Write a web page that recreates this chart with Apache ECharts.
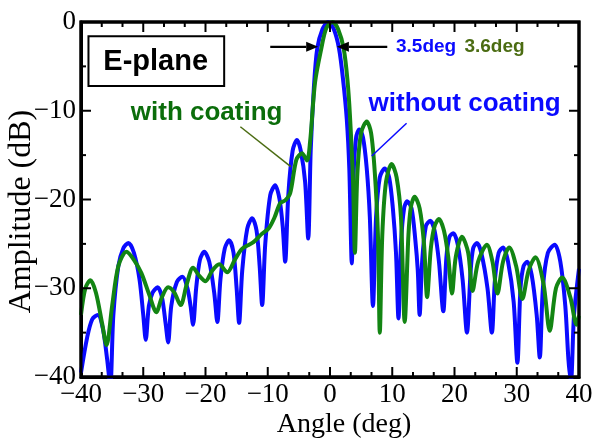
<!DOCTYPE html>
<html>
<head>
<meta charset="utf-8">
<script src="https://cdn.jsdelivr.net/npm/echarts@6/dist/echarts.min.js"></script>
<style>html,body{margin:0;padding:0;background:#fff}#c{width:598px;height:440px}</style>
</head>
<body>
<div id="c"></div>
<script>
// ---- data ----
const xTicks = [-40, -30, -20, -10, 0, 10, 20, 30, 40];
const yTicks = [-40, -30, -20, -10, 0];

const blueAngles = [-40,-39,-38.2,-37.3,-36.5,-35.8,-35.3,-34.8,-34,-33.2,-32.4,-31.5,-30.6,-30.0,-29.6,-29.1,-28.5,-27.7,-27.0,-26.4,-26.0,-25.5,-24.6,-23.7,-22.9,-22.4,-22.0,-21.5,-20.9,-20.2,-19.4,-18.6,-18.1,-17.6,-16.9,-16.2,-15.5,-15.0,-14.6,-14.1,-13.3,-12.5,-11.8,-11.3,-10.9,-10.4,-9.6,-8.8,-8.1,-7.6,-7.2,-6.7,-6.0,-5.3,-4.7,-4.0,-3.5,-3.1,-2.6,-2.05,-1.2,-0.3,0.6,1.45,2.1,2.7,3.1,3.5,3.8,4.2,4.7,5.3,5.9,6.4,6.9,7.4,8.0,8.8,9.5,10.1,10.6,11.0,11.4,11.9,12.4,13.1,13.7,14.1,14.4,14.8,15.4,16.1,16.8,17.5,18.2,18.7,19.2,19.8,20.5,21.3,22.0,22.6,23.0,23.6,24.3,25.3,26.0,26.5,27.1,27.8,28.6,29.5,30.1,30.6,31.1,31.7,32.4,33.2,33.7,34.2,35.0,36.1,37.0,37.8,38.3,38.7,39.2,40];
const blueDb = [-39.5,-35.5,-33.5,-33.0,-34.5,-38,-41,-33,-27.5,-25.5,-24.9,-26,-29,-33,-35.8,-32,-30.5,-29.9,-31,-34,-36.1,-32,-29.3,-28.7,-30,-32,-34.1,-30,-26.8,-25.9,-27,-30.5,-33.8,-29,-25.5,-24.6,-26,-30,-33.9,-28,-23.3,-22.1,-23.5,-27.5,-31.9,-25,-19.5,-18.4,-20,-23,-27.0,-19.5,-14.5,-13.3,-14.5,-18,-24.4,-14.5,-7.5,-3,-0.8,0,-0.8,-3,-6.5,-11,-16.5,-27.2,-17,-13,-12.1,-13,-16.5,-22,-32.0,-22,-17.5,-16.5,-17.5,-21,-26,-33.4,-25,-21,-20.2,-21,-24.5,-28,-33,-27,-23,-22.4,-23.5,-27,-32.6,-26.5,-24.2,-23.8,-25,-29,-35,-28,-25.5,-24.9,-26,-30,-35,-29,-26,-25.4,-27,-31.5,-38.4,-30,-27.5,-27,-28.5,-33,-37.8,-30,-26,-25.1,-27,-32,-38,-40.5,-33,-27.8];

const greenAngles = [-40,-39.3,-38.5,-37.6,-36.6,-35.9,-35.0,-34.0,-32.7,-31.5,-30.3,-29.0,-27.9,-27.0,-26.0,-25.0,-24.0,-23.0,-22.0,-21.0,-20.0,-18.9,-17.8,-16.5,-15.3,-14.2,-13.3,-12.3,-11.0,-9.8,-8.9,-8.0,-7.2,-6.4,-5.4,-4.5,-3.7,-3.2,-2.4,-1.4,-0.6,0.4,1.3,2.2,2.8,3.2,3.7,4.0,4.4,5.0,5.9,6.6,7.2,7.7,8.0,8.4,9.0,9.9,10.7,11.4,12.0,12.6,13.0,13.6,14.4,15.1,15.6,16.2,16.8,17.5,18.3,19.0,19.6,20.2,21.2,22.2,22.9,23.8,25.2,26.1,26.9,27.8,28.8,29.9,30.9,31.9,33.0,34.3,35.3,36.3,37.3,38.6,39.6,40];
const greenDb = [-33.0,-30,-29.1,-30.5,-34,-36.4,-32,-27.5,-25.9,-26.8,-28.3,-30.8,-32.7,-31,-29.9,-30.5,-31.9,-29.5,-27.7,-28.6,-29.2,-28,-27.3,-28.2,-26.8,-25.6,-25.2,-24.8,-23.9,-23.2,-22,-20.4,-20.1,-19.3,-15.5,-14.8,-15.6,-13.5,-6.8,-3,-0.7,0,-0.8,-3,-6.5,-10.5,-18,-26,-17,-12.5,-11.2,-12.5,-17,-24,-35,-24,-18,-16.0,-17.5,-22,-33.8,-24,-20.8,-19.7,-21,-25,-31,-25.5,-23,-22.2,-23.5,-26.5,-30.6,-26.5,-24.2,-26,-30.3,-27,-25.1,-27,-30.6,-27,-25.4,-27.5,-31.2,-28,-26.5,-29.5,-34.8,-30,-28.8,-31,-34.1,-33.1];

const seriesNames = ['without coating', 'with coating'];
const beamWidths = ['3.5deg', '3.6deg'];
const axisTitles = ['Angle (deg)', 'Amplitude (dB)'];

// ---- chart ----
const BLUE = '#0a0aff', GREEN = '#138513', GREEN_TXT = '#0b6d0b', OLIVE = '#4b6c12';
const serif = 'Liberation Serif';
const fmt = v => String(v).replace('-', '\u2212');
const pairs = (a, b) => a.map((x, i) => [x, b[i]]);

function axisCommon(margin) {
  return {
    axisLine: { show: true, onZero: false, lineStyle: { color: '#000', width: 3 } },
    axisTick: { show: false },
    splitLine: { show: false },
    axisLabel: { show: true, color: '#000', fontFamily: serif, fontSize: 27, formatter: fmt, margin: margin }
  };
}

const chart = echarts.init(document.getElementById('c'));
chart.setOption({
  animation: false,
  backgroundColor: '#fff',
  grid: { left: 81, right: 19, top: 22, bottom: 63, outerBoundsMode: 'none',
          show: true, borderColor: '#000', borderWidth: 3, backgroundColor: 'transparent' },
  xAxis: Object.assign({ type: 'value', min: xTicks[0], max: xTicks[xTicks.length - 1], interval: 10, position: 'bottom' }, axisCommon(4)),
  yAxis: Object.assign({ type: 'value', min: yTicks[0], max: yTicks[yTicks.length - 1], interval: 10, position: 'left' }, axisCommon(5)),
  series: [
    { name: seriesNames[0], type: 'line', data: pairs(blueAngles, blueDb), showSymbol: false, smooth: 0.3,
      lineStyle: { color: BLUE, width: 4 } },
    { name: seriesNames[1], type: 'line', data: pairs(greenAngles, greenDb), showSymbol: false, smooth: 0.3,
      lineStyle: { color: GREEN, width: 4 } }
  ]
});

// ---- pixel positions from the chart's own scales ----
const P = (x, y) => chart.convertToPixel({ xAxisIndex: 0, yAxisIndex: 0 }, [x, y]);
const X0 = xTicks[0], X1 = xTicks[xTicks.length - 1], Y0 = yTicks[0], Y1 = yTicks[yTicks.length - 1];
const bl = P(X0, Y0), tr = P(X1, Y1);

// inside tick marks on all four sides (major at the tick values, 2 minor per x step, 1 minor per y step)
const seg = (a, b, w, c) => ({ type: 'line', shape: { x1: a[0], y1: a[1], x2: b[0], y2: b[1] }, style: { stroke: c || '#000', lineWidth: w }, z: 5, silent: true });
const tickEls = [];
for (let i = 0; i < xTicks.length; i++) {
  const minorCount = i === xTicks.length - 1 ? 1 : 3;
  for (let k = 0; k < minorCount; k++) {
    const v = xTicks[i] + k * (10 / 3);
    const px = P(v, Y0)[0], len = k === 0 ? 10 : 5;
    tickEls.push(seg([px, bl[1]], [px, bl[1] - len], 2), seg([px, tr[1]], [px, tr[1] + len], 2));
  }
}
for (let i = 0; i < yTicks.length; i++) {
  const minorCount = i === yTicks.length - 1 ? 1 : 2;
  for (let k = 0; k < minorCount; k++) {
    const v = yTicks[i] + k * 5;
    const py = P(X0, v)[1], len = k === 0 ? 10 : 5;
    tickEls.push(seg([bl[0], py], [bl[0] + len, py], 2), seg([tr[0], py], [tr[0] - len, py], 2));
  }
}

function arrow(from, to) {
  const a = P(from[0], from[1]), b = P(to[0], to[1]);
  const dir = Math.sign(b[0] - a[0]);
  const L = 12, H = 5;
  return [
    { type: 'line', shape: { x1: a[0], y1: a[1], x2: b[0] - dir * L, y2: b[1] }, style: { stroke: '#000', lineWidth: 2.2 }, z: 10 },
    { type: 'polygon', shape: { points: [[b[0], b[1]], [b[0] - dir * L, b[1] - H], [b[0] - dir * L, b[1] + H]] }, style: { fill: '#000' }, z: 10 }
  ];
}
function leader(from, to, color) {
  const a = P(from[0], from[1]), b = P(to[0], to[1]);
  return { type: 'line', shape: { x1: a[0], y1: a[1], x2: b[0], y2: b[1] }, style: { stroke: color, lineWidth: 1.5 }, z: 10 };
}
const box = [P(-38.8, -1.6), P(-17.0, -7.2)];
const labelPos = {
  eplane: P(-28.0, -4.5),
  withC: P(-32.0, -10.2),
  withoutC: P(6.2, -9.2),
  bw1: P(10.6, -2.8),
  bw2: P(21.6, -2.8)
};
const els = [].concat(
  tickEls,
  [{ type: 'rect', shape: { x: bl[0], y: tr[1], width: tr[0] - bl[0], height: bl[1] - tr[1] }, style: { fill: 'none', stroke: '#000', lineWidth: 3 }, z: 6, silent: true }],
  arrow([-9.6, -2.8], [-1.9, -2.8]),
  arrow([9.2, -2.8], [1.1, -2.8]),
  [leader([-14.4, -11.8], [-6.3, -16.3], OLIVE),
   leader([12.3, -11.4], [6.7, -15.1], BLUE),
   { type: 'rect', shape: { x: box[0][0], y: box[0][1], width: box[1][0] - box[0][0], height: box[1][1] - box[0][1] }, style: { fill: '#fff', stroke: '#000', lineWidth: 2 }, z: 10 },
   { type: 'text', x: labelPos.eplane[0], y: labelPos.eplane[1], style: { text: 'E-plane', fill: '#000', font: 'bold 29px "Liberation Sans"', textAlign: 'center', textVerticalAlign: 'middle' }, z: 11 },
   { type: 'text', x: labelPos.withC[0], y: labelPos.withC[1], style: { text: seriesNames[1], fill: GREEN_TXT, font: 'bold 26px "Liberation Sans"', textAlign: 'left', textVerticalAlign: 'middle' }, z: 11 },
   { type: 'text', x: labelPos.withoutC[0], y: labelPos.withoutC[1], style: { text: seriesNames[0], fill: BLUE, font: 'bold 26px "Liberation Sans"', textAlign: 'left', textVerticalAlign: 'middle' }, z: 11 },
   { type: 'text', x: labelPos.bw1[0], y: labelPos.bw1[1], style: { text: beamWidths[0], fill: BLUE, font: 'bold 19px "Liberation Sans"', textAlign: 'left', textVerticalAlign: 'middle' }, z: 11 },
   { type: 'text', x: labelPos.bw2[0], y: labelPos.bw2[1], style: { text: beamWidths[1], fill: OLIVE, font: 'bold 19px "Liberation Sans"', textAlign: 'left', textVerticalAlign: 'middle' }, z: 11 },
   // axis titles
   { type: 'text', x: (bl[0] + tr[0]) / 2 + 14, y: bl[1] + 48, style: { text: axisTitles[0], fill: '#000', font: '28px "Liberation Serif"', textAlign: 'center', textVerticalAlign: 'middle' }, z: 11 },
   { type: 'text', x: bl[0] - 59, y: (bl[1] + tr[1]) / 2 + 12, rotation: Math.PI / 2, style: { text: axisTitles[1], fill: '#000', font: '32px "Liberation Serif"', textAlign: 'center', textVerticalAlign: 'middle' }, z: 11 }
  ]
);
chart.setOption({ graphic: { elements: els } });
</script>
</body>
</html>
